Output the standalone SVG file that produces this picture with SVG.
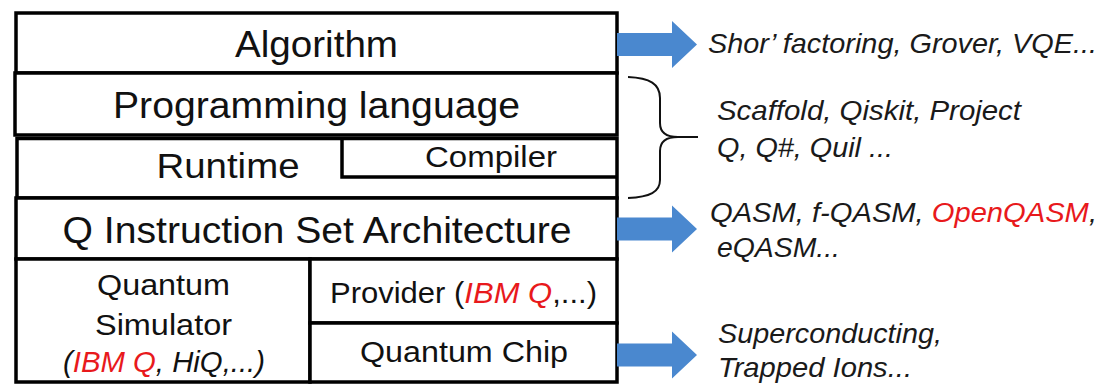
<svg xmlns="http://www.w3.org/2000/svg" width="1108" height="385" viewBox="0 0 1108 385">
<style>
.box{fill:#fff;stroke:#000;stroke-width:3.5}
.ln{fill:none;stroke:#000;stroke-width:3.5}
.t{font-family:"Liberation Sans",Arial,sans-serif;fill:#111;text-anchor:middle}
.r{font-family:"Liberation Sans",Arial,sans-serif;fill:#1a1a1a;font-style:italic;font-size:28px}
.red{fill:#e8191c}
.it{font-style:italic}
.arrow{fill:#4a88cf}
.brace{fill:none;stroke:#111;stroke-width:2}
</style>
<defs>
<path id="arr" d="M0,-11.5 H55 V-23.5 L80,0 L55,23.5 V11.5 H0 Z"/>
</defs>
<rect width="1108" height="385" fill="#fff"/>
<g id="algorithm">
<rect class="box" x="16" y="13" width="601" height="60"/>
<text class="t" x="316.5" y="57" font-size="36" textLength="163" lengthAdjust="spacingAndGlyphs">Algorithm</text>
</g>
<g id="programming-language">
<rect class="box" x="15" y="73" width="602" height="62"/>
<text class="t" x="316.5" y="118" font-size="36" textLength="407" lengthAdjust="spacingAndGlyphs">Programming language</text>
</g>
<g id="runtime">
<rect class="box" x="17" y="138.5" width="600" height="59.5"/>
<text class="t" x="228" y="178" font-size="35" textLength="143" lengthAdjust="spacingAndGlyphs">Runtime</text>
</g>
<g id="compiler">
<path class="ln" d="M342,138.5 V177 H617"/>
<text class="t" x="491" y="167" font-size="30" textLength="132" lengthAdjust="spacingAndGlyphs">Compiler</text>
</g>
<g id="qisa">
<rect class="box" x="16" y="198" width="601" height="61"/>
<text class="t" x="317" y="243" font-size="36" textLength="509" lengthAdjust="spacingAndGlyphs">Q Instruction Set Architecture</text>
</g>
<g id="quantum-simulator">
<rect class="box" x="16" y="259" width="294" height="123"/>
<text class="t" x="163.5" y="295" font-size="30" textLength="133" lengthAdjust="spacingAndGlyphs">Quantum</text>
<text class="t" x="163.5" y="335" font-size="30" textLength="137" lengthAdjust="spacingAndGlyphs">Simulator</text>
<text class="t it" x="164" y="372" font-size="29" textLength="202" lengthAdjust="spacingAndGlyphs">(<tspan class="red">IBM Q</tspan>, HiQ,...)</text>
</g>
<g id="provider">
<rect class="box" x="310" y="259" width="307" height="64"/>
<text class="t" x="463.5" y="303" font-size="30" textLength="267" lengthAdjust="spacingAndGlyphs">Provider (<tspan class="red it">IBM Q</tspan>,...)</text>
</g>
<g id="quantum-chip">
<rect class="box" x="310" y="323" width="307" height="59"/>
<text class="t" x="464" y="362" font-size="30" textLength="208" lengthAdjust="spacingAndGlyphs">Quantum Chip</text>
</g>
<g id="connectors">
<use href="#arr" class="arrow" transform="translate(617,44.5)"/>
<use href="#arr" class="arrow" transform="translate(617,229)"/>
<use href="#arr" class="arrow" transform="translate(617,355)"/>
<path class="brace" d="M628,77 C650,78 660,84 660,98 V123 C660,132 666,137 678,137 C666,137 660,142 660,151 V180 C660,192 650,197 628,198 M678,137 H698"/>
</g>
<g id="labels">
<text class="r" x="708" y="53" textLength="389" lengthAdjust="spacingAndGlyphs">Shor’ factoring, Grover, VQE...</text>
<text class="r" x="717" y="120" textLength="304" lengthAdjust="spacingAndGlyphs">Scaffold, Qiskit, Project</text>
<text class="r" x="717" y="157" textLength="176" lengthAdjust="spacingAndGlyphs">Q, Q#, Quil ...</text>
<text class="r" x="710" y="222" textLength="387" lengthAdjust="spacingAndGlyphs">QASM, f-QASM, <tspan class="red">OpenQASM</tspan>,</text>
<text class="r" x="717" y="257" textLength="123" lengthAdjust="spacingAndGlyphs">eQASM...</text>
<text class="r" x="718" y="343" textLength="224" lengthAdjust="spacingAndGlyphs">Superconducting,</text>
<text class="r" x="718" y="377" textLength="194" lengthAdjust="spacingAndGlyphs">Trapped Ions...</text>
</g>
</svg>
